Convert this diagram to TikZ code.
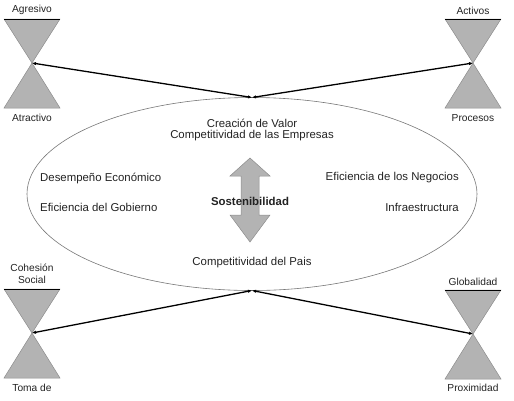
\documentclass[tikz,border=0pt]{standalone}
\usepackage{fontspec}
\setmainfont{Liberation Sans}
\usetikzlibrary{arrows.meta}
\definecolor{hgfill}{HTML}{B3B3B3}
\definecolor{hgline}{HTML}{8C8C8C}
\definecolor{txt}{HTML}{222222}
\tikzset{
  lbl/.style={font=\fontsize{10.2}{12}\selectfont, text=txt, inner sep=0pt},
  inlbl/.style={font=\fontsize{11.4}{13}\selectfont, text=txt, inner sep=0pt},
  conn/.style={line width=1.3pt, black, {Latex[length=4pt,width=3.5pt]}-{Latex[length=4pt,width=3.5pt]}},
  pics/hourglass/.style={code={
    \fill[hgfill, draw=hgline, line width=0.5pt] (-28,-44) -- (28,-44) -- (0,0) -- cycle;
    \fill[hgfill, draw=hgline, line width=0.5pt] (0,0) -- (-28,45) -- (28,45) -- cycle;
    \draw[black, line width=1pt] (-28,-44) -- (28,-44);
  }}
}
\begin{document}
\begin{tikzpicture}[x=1pt,y=-1pt]
\useasboundingbox (0,0) rectangle (514,400);
% ellipse
\draw[hgline!85!black, line width=0.6pt] (252,194) ellipse [x radius=225, y radius=96.5];
\coordinate (etop) at (252,97.5);
\coordinate (ebot) at (252,290.5);
% hourglasses
\coordinate (tl) at (32,63);
\coordinate (tr) at (473,63);
\coordinate (bl) at (32,333);
\coordinate (br) at (473,334);
\pic at (tl) {hourglass};
\pic at (tr) {hourglass};
\pic at (bl) {hourglass};
\pic at (br) {hourglass};
% connectors
\draw[conn] (tl) -- (etop);
\draw[conn] (tr) -- (etop);
\draw[conn] (bl) -- (ebot);
\draw[conn] (br) -- (ebot);
% hourglass labels
\node[lbl] (agr) at (32,10) {Agresivo};
\node[lbl] (atr) at (32,118) {Atractivo};
\node[lbl] (act) at (473,11) {Activos};
\node[lbl] (pro) at (473,118) {Procesos};
\node[lbl, align=center] (coh) at (32,274) {Cohesión\\Social};
\node[lbl] (tom) at (32,388) {Toma de};
\node[lbl] (glo) at (473,282) {Globalidad};
\node[lbl] (prox) at (473,388) {Proximidad};
% double arrow
\fill[hgfill, draw=hgline, line width=0.5pt]
  (250,158) -- (270,176) -- (259,176) -- (259,215) -- (270,215) -- (250,242)
  -- (230,215) -- (241,215) -- (241,176) -- (230,176) -- cycle;
% inner texts
\node[inlbl] (cv) at (252,123) {Creación de Valor};
\node[inlbl] (ce) at (252,136) {Competitividad de las Empresas};
\node[inlbl, anchor=west] (de) at (40,178) {Desempeño Económico};
\node[inlbl, anchor=west] (eg) at (40,207) {Eficiencia del Gobierno};
\node[inlbl, anchor=east] (en) at (459,178) {Eficiencia de los Negocios};
\node[inlbl, anchor=east] (inf) at (459,207) {Infraestructura};
\node[inlbl, font=\fontsize{11.4}{13}\selectfont\bfseries] (sos) at (250,201) {Sostenibilidad};
\node[inlbl] (cp) at (252,263) {Competitividad del Pais};
\end{tikzpicture}
\end{document}
